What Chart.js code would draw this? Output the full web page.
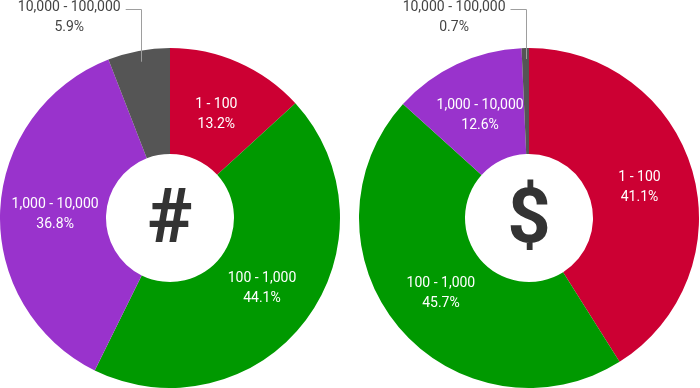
<!DOCTYPE html>
<html>
<head>
<meta charset="utf-8">
<script src="https://cdn.jsdelivr.net/npm/chart.js@4.4.0/dist/chart.umd.min.js"></script>
<style>
    html, body { margin: 0; padding: 0; background: #fff; }
    body { width: 700px; height: 388px; overflow: hidden; position: relative; }
    canvas { position: absolute; left: 0; top: 0; }
</style>
</head>
<body>
<canvas id="count-chart" width="700" height="388"></canvas>
<canvas id="amount-chart" width="700" height="388"></canvas>
<script>
// Faixas de valor e participação de cada uma (em %)
const categories = ['1 - 100', '100 - 1,000', '1,000 - 10,000', '10,000 - 100,000'];
const countShares = [13.2, 44.1, 36.8, 5.9];
const amountShares = [41.1, 45.7, 12.6, 0.7];

const sliceColors = ['#cc0033', '#009900', '#9933cc', '#555555'];

// Desenha os rótulos das fatias e o símbolo do centro
const sliceLabels = {
    id: 'sliceLabels',
    afterDatasetsDraw(chart, args, opts) {
        const ctx = chart.ctx;
        const meta = chart.getDatasetMeta(0);
        const values = chart.data.datasets[0].data;
        ctx.save();
        ctx.font = '14px Roboto';
        ctx.textAlign = 'center';
        ctx.textBaseline = 'alphabetic';

        meta.data.forEach((arc, i) => {
            const p = arc.getProps(['x', 'y', 'startAngle', 'endAngle', 'innerRadius', 'outerRadius'], true);
            const mid = (p.startAngle + p.endAngle) / 2;
            const name = chart.data.labels[i];
            const pct = values[i].toFixed(1) + '%';

            if (values[i] >= 8) {
                const r = (p.innerRadius + p.outerRadius) / 2 - 2;
                const cx = p.x + Math.cos(mid) * r;
                const cy = p.y + Math.sin(mid) * r;
                ctx.fillStyle = '#fff';
                ctx.fillText(name, cx, cy - 10 + 5);
                ctx.fillText(pct, cx, cy + 10 + 5);
            } else {
                // fatia pequena: rótulo por fora com linha guia
                const r = p.outerRadius - 11;
                const x0 = p.x + Math.cos(mid) * r;
                const y0 = p.y + Math.sin(mid) * r;
                const lineY = 9;
                const x1 = x0 - 15;
                ctx.strokeStyle = '#9e9e9e';
                ctx.lineWidth = 1;
                ctx.beginPath();
                ctx.moveTo(Math.round(x0) + 0.5, y0);
                ctx.lineTo(Math.round(x0) + 0.5, lineY + 0.5);
                ctx.lineTo(x1, lineY + 0.5);
                ctx.stroke();

                const w = ctx.measureText(name).width;
                const cx = x1 - 5 - w / 2;
                ctx.fillStyle = '#444';
                ctx.fillText(name, cx, 10.5);
                ctx.fillText(pct, cx, 30.5);
            }
        });

        // símbolo central
        const first = meta.data[0];
        ctx.fillStyle = '#333';
        ctx.font = 'bold 76px Roboto';
        ctx.fillText(opts.symbol, first.x, first.y + 24);
        ctx.restore();
    }
};

const makeChart = (id, shares, symbol, padLeft, padRight) => {
    const ctx = document.getElementById(id).getContext('2d');
    return new Chart(ctx, {
        type: 'doughnut',
        data: {
            labels: categories,
            datasets: [{
                data: shares,
                backgroundColor: sliceColors,
                borderWidth: 0,
                hoverOffset: 0,
                offset: 0
            }]
        },
        options: {
            responsive: false,
            animation: false,
            events: [],
            cutout: 64,
            layout: { padding: { left: padLeft, right: padRight, top: 48, bottom: 0 } },
            plugins: {
                legend: { display: false },
                tooltip: { enabled: false },
                sliceLabels: { symbol: symbol }
            }
        },
        plugins: [sliceLabels]
    });
};

makeChart('count-chart', countShares, '#', 0, 360);
makeChart('amount-chart', amountShares, '$', 359, 1);
</script>
</body>
</html>
